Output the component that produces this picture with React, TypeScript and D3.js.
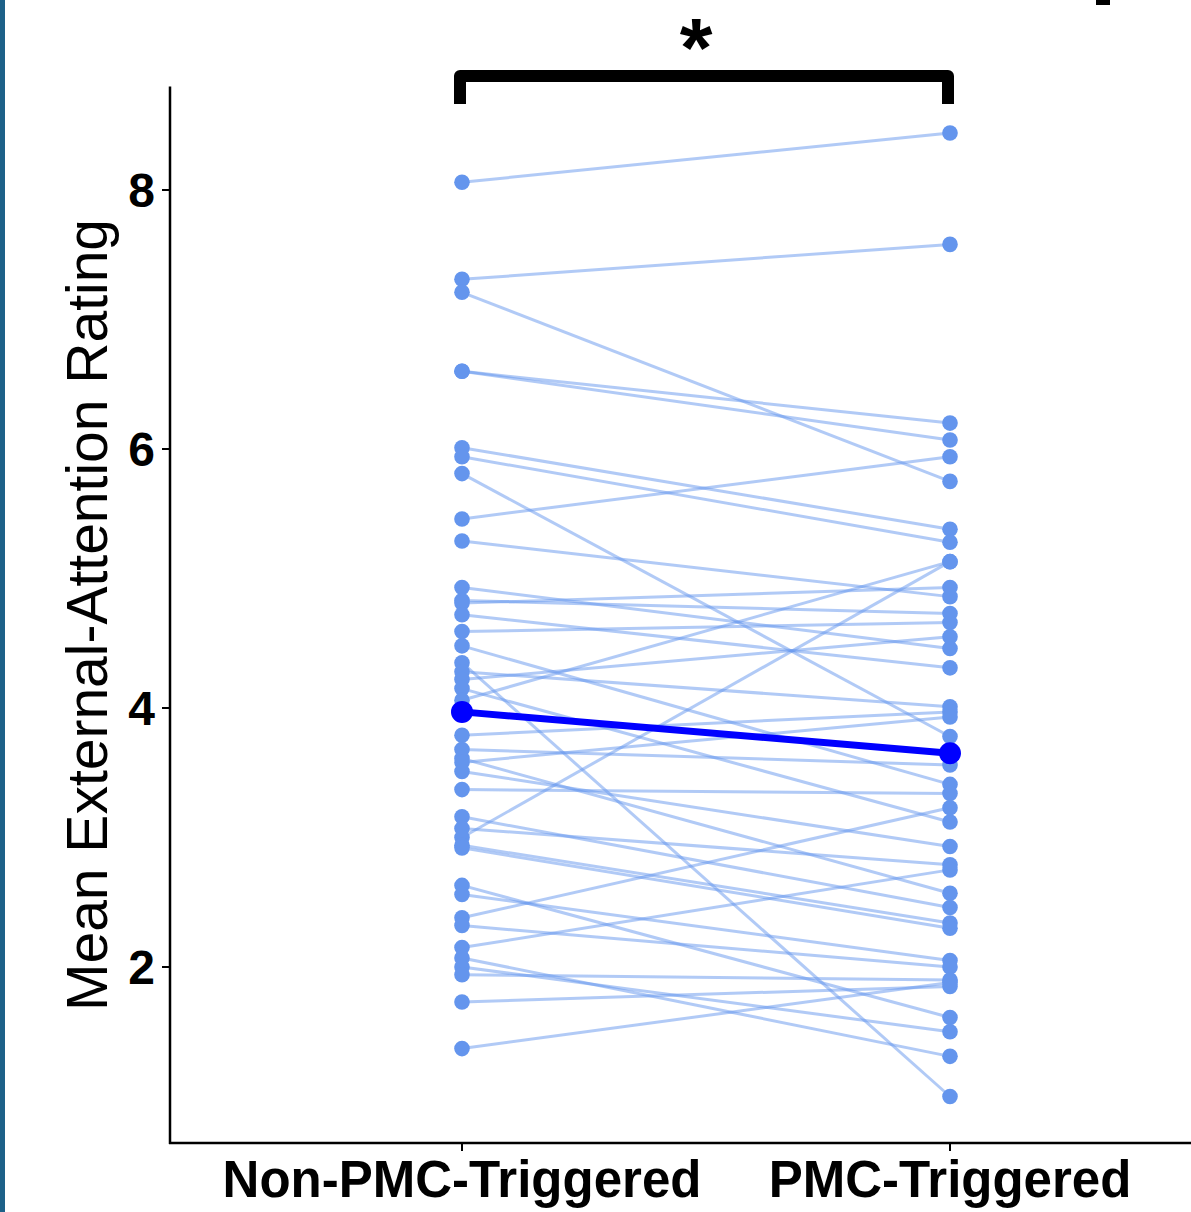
import { useEffect, useRef } from "react";
import * as d3 from "d3";

// condition labels on the x axis
const conditions = ["Non-PMC-Triggered", "PMC-Triggered"];

// per-subject mean ratings, paired by index
const nonPmc = [
  8.06, 7.31, 7.21, 6.6, 6.6, 6.01, 5.94, 5.81, 5.46, 5.29,
  4.93, 4.83, 4.81, 4.72, 4.59, 4.48, 4.35, 4.28, 4.22, 4.15,
  4.06, 3.79, 3.68, 3.61, 3.58, 3.51, 3.37, 3.16, 3.07, 3.0,
  2.94, 2.92, 2.63, 2.56, 2.38, 2.32, 2.15, 2.07, 2.0, 1.94,
  1.73, 1.37,
];
const pmc = [
  8.44, 7.58, 5.75, 6.2, 6.07, 5.38, 5.28, 3.78, 5.94, 4.86,
  4.46, 4.73, 4.93, 4.31, 4.66, 3.41, 1.0, 4.01, 4.55, 3.12,
  5.13, 3.97, 3.56, 2.57, 3.93, 2.93, 3.34, 2.46, 2.79, 5.13,
  2.34, 2.3, 1.61, 2.05, 3.23, 2.0, 2.75, 1.31, 1.5, 1.9,
  1.85, 1.88,
];

// group means as shown in the figure
const groupMeans = [3.97, 3.65];

const yTicks = [2, 4, 6, 8];

const App = () => {
  const ref = useRef<SVGSVGElement>(null);

  useEffect(() => {
    document.body.style.margin = "0";
    const w = 1191;
    const h = 1212;
    const svg = d3.select(ref.current).attr("width", w).attr("height", h);
    svg.selectAll("*").remove();

    const font = "'Liberation Sans', Arial, Helvetica, sans-serif";
    const x = d3.scalePoint<string>().domain(conditions).range([462, 950]);
    const y = d3.scaleLinear().domain([2, 8]).range([967, 190]);
    const axisLeft = 170;
    const yMin = 0.64;
    const yMax = 8.8;

    // strip on left edge and bit of the neighbouring panel
    svg.append("rect").attr("x", 0).attr("y", 0).attr("width", 5).attr("height", h).attr("fill", "#1d6188");
    svg.append("rect").attr("x", 1096).attr("y", 0).attr("width", 14).attr("height", 5).attr("fill", "#000");

    // axes
    svg
      .append("line")
      .attr("x1", axisLeft)
      .attr("x2", axisLeft)
      .attr("y1", y(yMax))
      .attr("y2", y(yMin) + 1)
      .attr("stroke", "#000")
      .attr("stroke-width", 2.5);
    svg
      .append("line")
      .attr("x1", axisLeft - 1)
      .attr("x2", w)
      .attr("y1", y(yMin))
      .attr("y2", y(yMin))
      .attr("stroke", "#000")
      .attr("stroke-width", 2.5);

    const yt = svg.append("g");
    yTicks.forEach((t) => {
      yt.append("line")
        .attr("x1", axisLeft - 8)
        .attr("x2", axisLeft)
        .attr("y1", y(t))
        .attr("y2", y(t))
        .attr("stroke", "#000")
        .attr("stroke-width", 2);
      yt.append("text")
        .attr("x", 155)
        .attr("y", y(t) + 17)
        .attr("text-anchor", "end")
        .attr("font-family", font)
        .attr("font-weight", "bold")
        .attr("font-size", 48)
        .text(t);
    });

    conditions.forEach((c) => {
      svg
        .append("line")
        .attr("x1", x(c)!)
        .attr("x2", x(c)!)
        .attr("y1", y(yMin))
        .attr("y2", y(yMin) + 8)
        .attr("stroke", "#000")
        .attr("stroke-width", 2);
      svg
        .append("text")
        .attr("x", x(c)!)
        .attr("y", 1197)
        .attr("text-anchor", "middle")
        .attr("font-family", font)
        .attr("font-weight", "bold")
        .attr("font-size", 51)
        .text(c);
    });

    svg
      .append("text")
      .attr("transform", "translate(107,615) rotate(-90)")
      .attr("text-anchor", "middle")
      .attr("font-family", font)
      .attr("font-size", 57)
      .text("Mean External-Attention Rating");

    // paired subject lines
    const pairs = nonPmc.map((v, i) => [v, pmc[i]]);
    const line = d3
      .line<number>()
      .x((_, i) => x(conditions[i])!)
      .y((d) => y(d));

    svg
      .append("g")
      .selectAll("path")
      .data(pairs)
      .join("path")
      .attr("d", (d) => line(d))
      .attr("fill", "none")
      .attr("stroke", "#6495ed")
      .attr("stroke-opacity", 0.5)
      .attr("stroke-width", 3);

    const pts = pairs.flatMap((d) => d.map((v, i) => ({ c: conditions[i], v })));
    svg
      .append("g")
      .selectAll("circle")
      .data(pts)
      .join("circle")
      .attr("cx", (d) => x(d.c)!)
      .attr("cy", (d) => y(d.v))
      .attr("r", 7.8)
      .attr("fill", "#6495ed");

    // group mean
    svg
      .append("path")
      .attr("d", line(groupMeans))
      .attr("fill", "none")
      .attr("stroke", "#0000ff")
      .attr("stroke-width", 7);
    svg
      .append("g")
      .selectAll("circle")
      .data(groupMeans)
      .join("circle")
      .attr("cx", (_, i) => x(conditions[i])!)
      .attr("cy", (d) => y(d))
      .attr("r", 11)
      .attr("fill", "#0000ff");

    // significance bracket
    const bTop = 76;
    const bBottom = 104;
    const bl = x(conditions[0])! - 2;
    const br = x(conditions[1])! - 2;
    svg
      .append("path")
      .attr("d", `M${bl},${bBottom}V${bTop}H${br}V${bBottom}`)
      .attr("fill", "none")
      .attr("stroke", "#000")
      .attr("stroke-width", 12)
      .attr("stroke-linejoin", "round");
    svg
      .append("text")
      .attr("x", (bl + br) / 2 - 8)
      .attr("y", 77)
      .attr("text-anchor", "middle")
      .attr("font-family", font)
      .attr("font-weight", "bold")
      .attr("font-size", 84)
      .text("*");
  }, []);

  return <svg ref={ref} style={{ display: "block" }}></svg>;
};

export default App;
